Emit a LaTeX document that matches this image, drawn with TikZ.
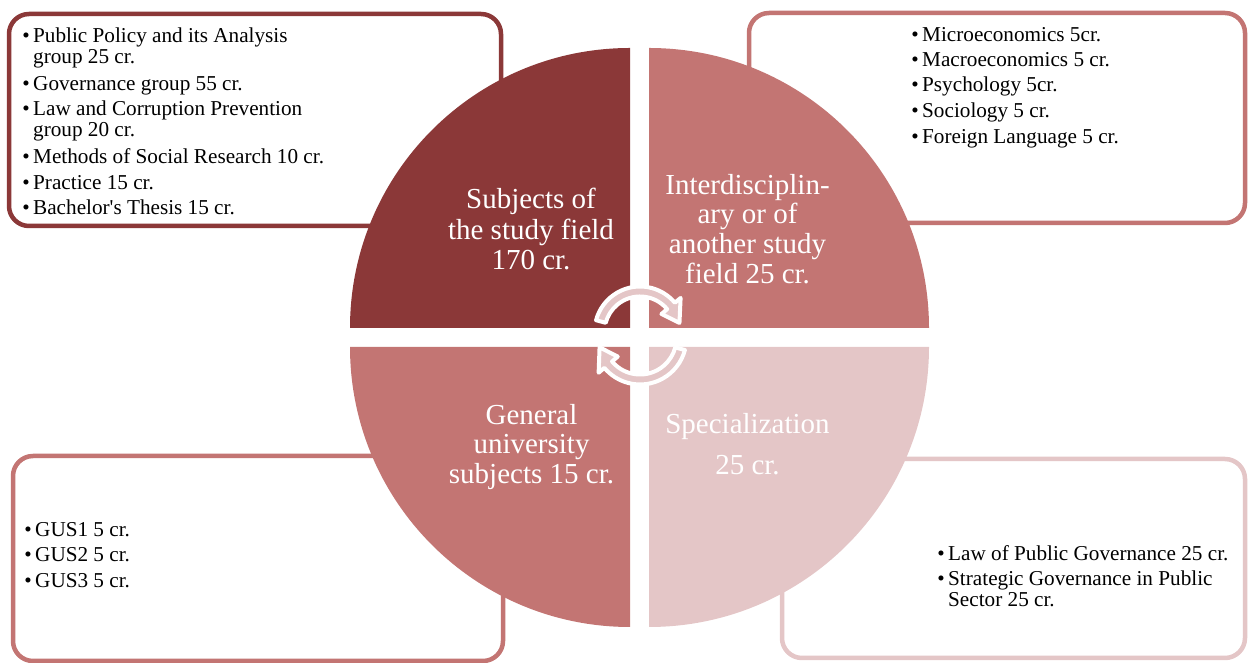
\documentclass[tikz,border=0pt]{standalone}
\usepackage{fontspec}
\setmainfont{Liberation Serif}
\definecolor{cdark}{RGB}{139,56,56}
\definecolor{cmed}{RGB}{195,117,115}
\definecolor{clight}{RGB}{228,198,199}
\begin{document}
\begin{tikzpicture}[x=1pt,y=1pt,
  boxframe/.style={line width=4.5pt, rounded corners=20pt, fill=white},
  itemtxt/.style={anchor=base west, inner sep=0pt, font=\fontsize{21.2}{21}\selectfont, text=black},
  qlabel/.style={anchor=base, inner sep=0pt, font=\fontsize{29}{30}\selectfont, text=white},
  cycarrow/.style={fill=clight, draw=white, line width=4pt, line join=round}]
\useasboundingbox (0,0) rectangle (1248,663);
\newcommand{\bul}{\llap{\textbullet\hspace{3.5pt}}}
% boxes
\draw[boxframe, draw=cdark] (9,437) rectangle (501,649);
\draw[boxframe, draw=cmed] (749,440) rectangle (1245,650);
\draw[boxframe, draw=cmed] (13,2) rectangle (503,207);
\draw[boxframe, draw=clight] (782,5) rectangle (1245,204);
% quadrants
\fill[cdark] (630,335) -- (350,335) arc[start angle=180, end angle=90, radius=280pt] -- cycle;
\fill[cmed] (649,335) -- (649,615) arc[start angle=90, end angle=0, radius=280pt] -- cycle;
\fill[cmed] (630,316) -- (350,316) arc[start angle=180, end angle=270, radius=280pt] -- cycle;
\fill[clight] (649,316) -- (929,316) arc[start angle=0, end angle=-90, radius=280pt] -- cycle;
% top-left list
\node[itemtxt] (a1) at (33,620) {\bul Public Policy and its Analysis};
\node[itemtxt] (a1b) at (33,599) {group 25 cr.};
\node[itemtxt] (a2) at (33,572) {\bul Governance group 55 cr.};
\node[itemtxt] (a3) at (33,547) {\bul Law and Corruption Prevention};
\node[itemtxt] (a3b) at (33,526) {group 20 cr.};
\node[itemtxt] (a4) at (33,499) {\bul Methods of Social Research 10 cr.};
\node[itemtxt] (a5) at (33,473) {\bul Practice 15 cr.};
\node[itemtxt] (a6) at (33,448) {\bul Bachelor\textquotesingle s Thesis 15 cr.};
% top-right list
\node[itemtxt] (b1) at (922,621) {\bul Microeconomics 5cr.};
\node[itemtxt] (b2) at (922,596) {\bul Macroeconomics 5 cr.};
\node[itemtxt] (b3) at (922,571) {\bul Psychology 5cr.};
\node[itemtxt] (b4) at (922,545) {\bul Sociology 5 cr.};
\node[itemtxt] (b5) at (922,519) {\bul Foreign Language 5 cr.};
% bottom-left list
\node[itemtxt] (c1) at (35,126) {\bul GUS1 5 cr.};
\node[itemtxt] (c2) at (35,101) {\bul GUS2 5 cr.};
\node[itemtxt] (c3) at (35,75) {\bul GUS3 5 cr.};
% bottom-right list
\node[itemtxt] (d1) at (948,102) {\bul Law of Public Governance 25 cr.};
\node[itemtxt] (d2) at (948,77) {\bul Strategic Governance in Public};
\node[itemtxt] (d2b) at (948,56) {Sector 25 cr.};
% quadrant labels
\node[qlabel] (q1a) at (531,454) {Subjects of};
\node[qlabel] (q1b) at (531,423) {the study field};
\node[qlabel] (q1c) at (531,393) {170 cr.};
\node[qlabel] (q2a) at (747.5,468) {Interdisciplin-};
\node[qlabel] (q2b) at (747.5,439) {ary or of};
\node[qlabel] (q2c) at (747.5,409) {another study};
\node[qlabel] (q2d) at (747.5,379) {field 25 cr.};
\node[qlabel] (q3a) at (531.5,238) {General};
\node[qlabel] (q3b) at (531.5,209) {university};
\node[qlabel] (q3c) at (531.5,179) {subjects 15 cr.};
\node[qlabel] (q4a) at (747.5,229) {Specialization};
\node[qlabel] (q4b) at (747.5,188) {25 cr.};
% circular arrows
\begin{scope}[shift={(640,331)}]
\draw[cycarrow] (165:45.5pt) arc[start angle=165, end angle=40, radius=45.5pt]
  -- (40:53pt) -- (13:40.5pt) -- (40:28pt) -- (40:35.5pt)
  arc[start angle=40, end angle=165, radius=35.5pt] -- cycle;
\end{scope}
\begin{scope}[shift={(640,325)}]
\draw[cycarrow] (-15:46.5pt) arc[start angle=-15, end angle=-140, radius=46.5pt]
  -- (-140:54pt) -- (-167:41.5pt) -- (-140:29pt) -- (-140:36.5pt)
  arc[start angle=-140, end angle=-15, radius=36.5pt] -- cycle;
\end{scope}
\end{tikzpicture}
\end{document}
